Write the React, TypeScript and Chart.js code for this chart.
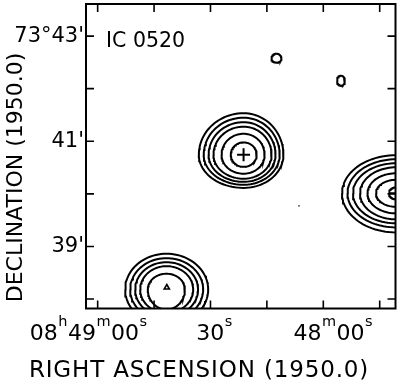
import React, { useEffect, useRef } from 'react';
import { Chart, registerables } from 'chart.js';

Chart.register(...registerables);

const FONT = "'DejaVu Sans', sans-serif";

// RA axis: seconds of time relative to 08h48m00s (1950.0), increasing to the left
// Dec axis: arcminutes past 73°
const xRange = [-19.2, 63.1];
const yRange = [37.82, 43.61];

const xTickValues = [-15, 0, 15, 30, 45, 60];
const xTickLabels = ['', '48ᵐ00ˢ', '', '30ˢ', '', '08ʰ49ᵐ00ˢ'];
const yTickValues = [38, 39, 40, 41, 42, 43];
const yTickLabels = ['', "39'", '', "41'", '', "73°43'"];

const xAxisTitle = 'RIGHT ASCENSION (1950.0)';
const yAxisTitle = 'DECLINATION (1950.0)';
const fieldLabel = 'IC 0520';

// Contour rings: [east, west, north, south] extent from the peak (s, s, arcmin, arcmin)
const centralPeak = [21.2, 40.743];
const centralRings = [
  [11.9, 10.6, 0.79, 0.63],
  [10.6, 9.6, 0.705, 0.57],
  [9.3, 8.5, 0.62, 0.515],
  [8.0, 7.45, 0.535, 0.455],
  [5.85, 5.6, 0.4, 0.36],
  [3.4, 3.5, 0.235, 0.23],
];

const southPeak = [41.7, 38.181];
const southMarker = [41.62, 38.219];
const southRings = [
  [10.98, 11.09, 0.68, 0.68],
  [9.65, 9.75, 0.596, 0.596],
  [8.32, 8.4, 0.52, 0.52],
  [6.99, 7.1, 0.444, 0.444],
  [4.97, 4.9, 0.3, 0.38],
];

const westPeak = [-19.34, 40.01];
const westRings = [
  [14.36, 14.36, 0.724, 0.743],
  [12.9, 12.9, 0.648, 0.648],
  [11.44, 11.44, 0.571, 0.571],
  [9.57, 9.57, 0.495, 0.495],
  [7.58, 7.58, 0.381, 0.381],
  [5.32, 5.32, 0.257, 0.257],
  [1.86, 1.86, 0.114, 0.114],
];

const blobPeaks = [
  [12.45, 42.571],
  [-4.71, 42.152],
];
const blobRings = [
  [1.33, 1.33, 0.095, 0.076],
  [1.06, 1.06, 0.095, 0.095],
];
const noiseDots = [[6.46, 39.771]];

// label styling (not data)
const xLabelNudge = [0, 10, 0, 4, 0, -9];
const SUPERS: Record<string, string> = { 'ʰ': 'h', 'ᵐ': 'm', 'ˢ': 's' };

function ringPoints(c: number[], r: number[]) {
  const pts: { x: number; y: number }[] = [];
  const n = 96;
  for (let i = 0; i <= n; i++) {
    const t = (i / n) * 2 * Math.PI;
    const cx = Math.cos(t);
    const sy = Math.sin(t);
    pts.push({
      x: c[0] + (cx >= 0 ? r[0] : r[1]) * cx,
      y: c[1] + (sy >= 0 ? r[2] : r[3]) * sy,
    });
  }
  return pts;
}

function contourDataset(c: number[], r: number[]) {
  return {
    type: 'scatter' as const,
    data: ringPoints(c, r),
    showLine: true,
    borderColor: '#000',
    borderWidth: 2,
    pointRadius: 0,
    fill: false,
    clip: 0,
  };
}

function drawSupLabel(ctx: CanvasRenderingContext2D, text: string, cx: number, baseline: number) {
  const mainFont = `22px ${FONT}`;
  const supFont = `14.5px ${FONT}`;
  const segs: { t: string; sup: boolean }[] = [];
  for (const ch of Array.from(text)) {
    const sup = ch in SUPERS;
    const t = sup ? SUPERS[ch] : ch;
    const last = segs[segs.length - 1];
    if (last && last.sup === sup) last.t += t;
    else segs.push({ t, sup });
  }
  let total = 0;
  const widths = segs.map((s) => {
    ctx.font = s.sup ? supFont : mainFont;
    const w = ctx.measureText(s.t).width + (s.sup ? 1 : 0);
    total += w;
    return w;
  });
  let x = cx - total / 2;
  segs.forEach((s, i) => {
    ctx.font = s.sup ? supFont : mainFont;
    ctx.fillText(s.t, x + (s.sup ? 0.5 : 0), s.sup ? baseline - 14.5 : baseline);
    x += widths[i];
  });
}

const framePlugin = {
  id: 'frameAndText',
  afterDatasetsDraw(chart: any) {
    const { ctx, chartArea: a, scales } = chart;
    ctx.save();
    ctx.strokeStyle = '#000';
    ctx.lineWidth = 2;
    ctx.strokeRect(a.left, a.top, a.right - a.left, a.bottom - a.top);
    const tl = 8;
    ctx.lineWidth = 1.6;
    ctx.beginPath();
    for (const t of scales.x.ticks) {
      const px = scales.x.getPixelForValue(t.value);
      ctx.moveTo(px, a.bottom);
      ctx.lineTo(px, a.bottom - tl);
      ctx.moveTo(px, a.top);
      ctx.lineTo(px, a.top + tl);
    }
    for (const t of scales.y.ticks) {
      const py = scales.y.getPixelForValue(t.value);
      ctx.moveTo(a.left, py);
      ctx.lineTo(a.left + tl, py);
      ctx.moveTo(a.right, py);
      ctx.lineTo(a.right - tl, py);
    }
    ctx.stroke();

    ctx.fillStyle = '#000';
    ctx.textBaseline = 'alphabetic';
    ctx.textAlign = 'left';
    xTickValues.forEach((v, i) => {
      if (!xTickLabels[i]) return;
      const px = scales.x.getPixelForValue(v);
      drawSupLabel(ctx, xTickLabels[i], px + xLabelNudge[i], a.bottom + 31.5);
    });

    ctx.textAlign = 'center';
    ctx.font = `23px ${FONT}`;
    (ctx as any).letterSpacing = '0.85px';
    ctx.fillText(xAxisTitle, 199, 377);

    ctx.save();
    ctx.translate(21.5, 177.5);
    ctx.rotate(-Math.PI / 2);
    ctx.font = `22px ${FONT}`;
    (ctx as any).letterSpacing = '0px';
    ctx.fillText(yAxisTitle, 0, 0);
    ctx.restore();

    (ctx as any).letterSpacing = '0px';
    ctx.textAlign = 'left';
    ctx.font = `20.5px ${FONT}`;
    ctx.fillText(fieldLabel, a.left + 20, a.top + 42.5);
    ctx.restore();
  },
};

export default function App() {
  const ref = useRef<HTMLCanvasElement | null>(null);

  useEffect(() => {
    if (!ref.current) return;
    const datasets: any[] = [];
    centralRings.forEach((r) => datasets.push(contourDataset(centralPeak, r)));
    southRings.forEach((r) => datasets.push(contourDataset(southPeak, r)));
    westRings.forEach((r) => datasets.push(contourDataset(westPeak, r)));
    blobRings.forEach((r, i) => datasets.push(contourDataset(blobPeaks[i], r)));

    datasets.push({
      type: 'scatter',
      data: [
        { x: centralPeak[0], y: centralPeak[1] },
        { x: westPeak[0], y: westPeak[1] },
      ],
      pointStyle: 'cross',
      pointRadius: 6.5,
      pointBorderWidth: 2,
      borderColor: '#000',
      backgroundColor: '#000',
      showLine: false,
      clip: 0,
    });
    datasets.push({
      type: 'scatter',
      data: [{ x: southMarker[0], y: southMarker[1] }],
      pointStyle: 'triangle',
      pointRadius: 3,
      pointBorderWidth: 1.6,
      borderColor: '#000',
      backgroundColor: '#fff',
      showLine: false,
      clip: 0,
    });
    datasets.push({
      type: 'scatter',
      data: noiseDots.map((d) => ({ x: d[0], y: d[1] })),
      pointStyle: 'rect',
      pointRadius: 1,
      pointBorderWidth: 0,
      borderColor: '#000',
      backgroundColor: '#000',
      showLine: false,
      clip: 0,
    });

    const chart = new Chart(ref.current, {
      type: 'scatter',
      data: { datasets },
      options: {
        animation: false,
        responsive: false,
        maintainAspectRatio: false,
        events: [],
        layout: { autoPadding: false, padding: { left: 0, top: 4, right: 4.5, bottom: 0 } },
        plugins: {
          legend: { display: false },
          tooltip: { enabled: false },
          title: { display: false },
        },
        scales: {
          x: {
            type: 'linear',
            reverse: true,
            min: xRange[0],
            max: xRange[1],
            grid: { display: false, drawTicks: false },
            border: { display: false },
            afterBuildTicks: (s: any) => {
              s.ticks = xTickValues.map((v) => ({ value: v }));
            },
            afterFit: (s: any) => {
              s.height = 72.5;
              s.paddingLeft = 0;
              s.paddingRight = 0;
              s.paddingTop = 0;
              s.paddingBottom = 0;
            },
            ticks: { display: false },
          },
          y: {
            type: 'linear',
            min: yRange[0],
            max: yRange[1],
            grid: { display: false, drawTicks: false },
            border: { display: false },
            afterBuildTicks: (s: any) => {
              s.ticks = yTickValues.map((v) => ({ value: v }));
            },
            afterFit: (s: any) => {
              s.width = 86;
              s.paddingLeft = 0;
              s.paddingRight = 0;
              s.paddingTop = 0;
              s.paddingBottom = 0;
            },
            ticks: {
              autoSkip: false,
              padding: 2,
              color: '#000',
              font: { family: FONT, size: 21 },
              callback: (v: any) => {
                const i = yTickValues.indexOf(Number(v));
                return i >= 0 ? yTickLabels[i] : '';
              },
            },
          },
        },
      },
      plugins: [framePlugin],
    });
    return () => chart.destroy();
  }, []);

  return (
    <div style={{ position: 'absolute', left: 0, top: 0, width: 400, height: 381, background: '#fff' }}>
      <canvas ref={ref} width={400} height={381} style={{ display: 'block' }} />
    </div>
  );
}
